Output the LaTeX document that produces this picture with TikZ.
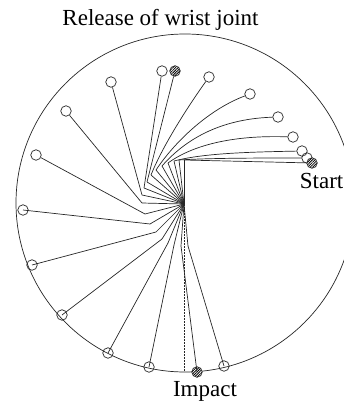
\documentclass[tikz,border=0pt]{standalone}
\usepackage{fontspec}
\setmainfont{Liberation Serif}
\usetikzlibrary{patterns.meta}
\begin{document}
\begin{tikzpicture}[x=1pt,y=-1pt,
  stroke/.style={line width=0.7pt, black!85},
  head/.style={circle, draw=black!85, line width=0.7pt, minimum size=10.5pt, inner sep=0pt},
  headmark/.style={head, preaction={fill=white},
    pattern={Lines[angle=45,distance=1.8pt,line width=0.8pt]}},
  caption/.style={font=\fontsize{23}{27}\selectfont, inner sep=0pt}
]
\useasboundingbox (0,0) rectangle (344,401);

% path of the club head
\draw[stroke] (185,203) circle[radius=169];

% shoulder pivot and wrist positions
\coordinate (h) at (184,204);
\foreach \i/\x/\y in {0/184/160, 1/179/160, 2/174/161, 3/168/163, 4/162/166,
    5/156/170, 6/151/175, 7/147/182, 8/144/188, 9/142/195, 10/142/203,
    11/145/214, 12/150/224, 13/156/232, 14/162/239, 15/168/243,
    16/174/245, 17/181/246, 18/188/246}
  \coordinate (w\i) at (\x,\y);

% club heads
\foreach \i/\x/\y in {1/307/158, 2/302/151, 3/293/137, 4/278/117, 5/250/94,
    6/209/77, 8/162/71, 9/111/82, 10/66/111, 11/36/155, 12/23/210,
    13/32/265, 14/62/315, 15/108/353, 16/149/367, 18/224/366}
  \node[head] (b\i) at (\x,\y) {};
\node[headmark] (b0) at (312,163) {};
\node[headmark] (b7) at (175,71) {};
\node[headmark] (b17) at (197,372) {};

% arms
\foreach \i in {0,...,18}
  \draw[stroke] (h) -- (w\i);

% clubs
\foreach \i in {0,7,8,9,10,11}
  \draw[stroke] (w\i) -- (b\i);
\foreach \i in {12,...,18}
  \draw[stroke] (w\i) -- (b\i.center);
\draw[stroke] (w1) .. controls (209,158) and (260,158) .. (b1);
\draw[stroke] (w2) .. controls (204,153) and (252,152) .. (b2);
\draw[stroke] (w3) .. controls (193,145) and (233,135) .. (b3);
\draw[stroke] (w4) .. controls (184,141) and (218,119) .. (b4);
\draw[stroke] (w5) .. controls (176,140) and (210,109) .. (b5);
\draw[stroke] (w6) .. controls (163,145) and (189,105) .. (b6);

% vertical through the pivot
\coordinate (low) at (184,372);
\draw[stroke, dash pattern=on 1.5pt off 1.5pt] (h) -- (low);

% captions
\node[caption, anchor=base] (ttl) at (160.5,26) {Release of wrist joint};
\node[caption, anchor=base east] (st) at (343.5,188) {Start};
\node[caption, anchor=base] (imp) at (205,396) {Impact};
\end{tikzpicture}
\end{document}
